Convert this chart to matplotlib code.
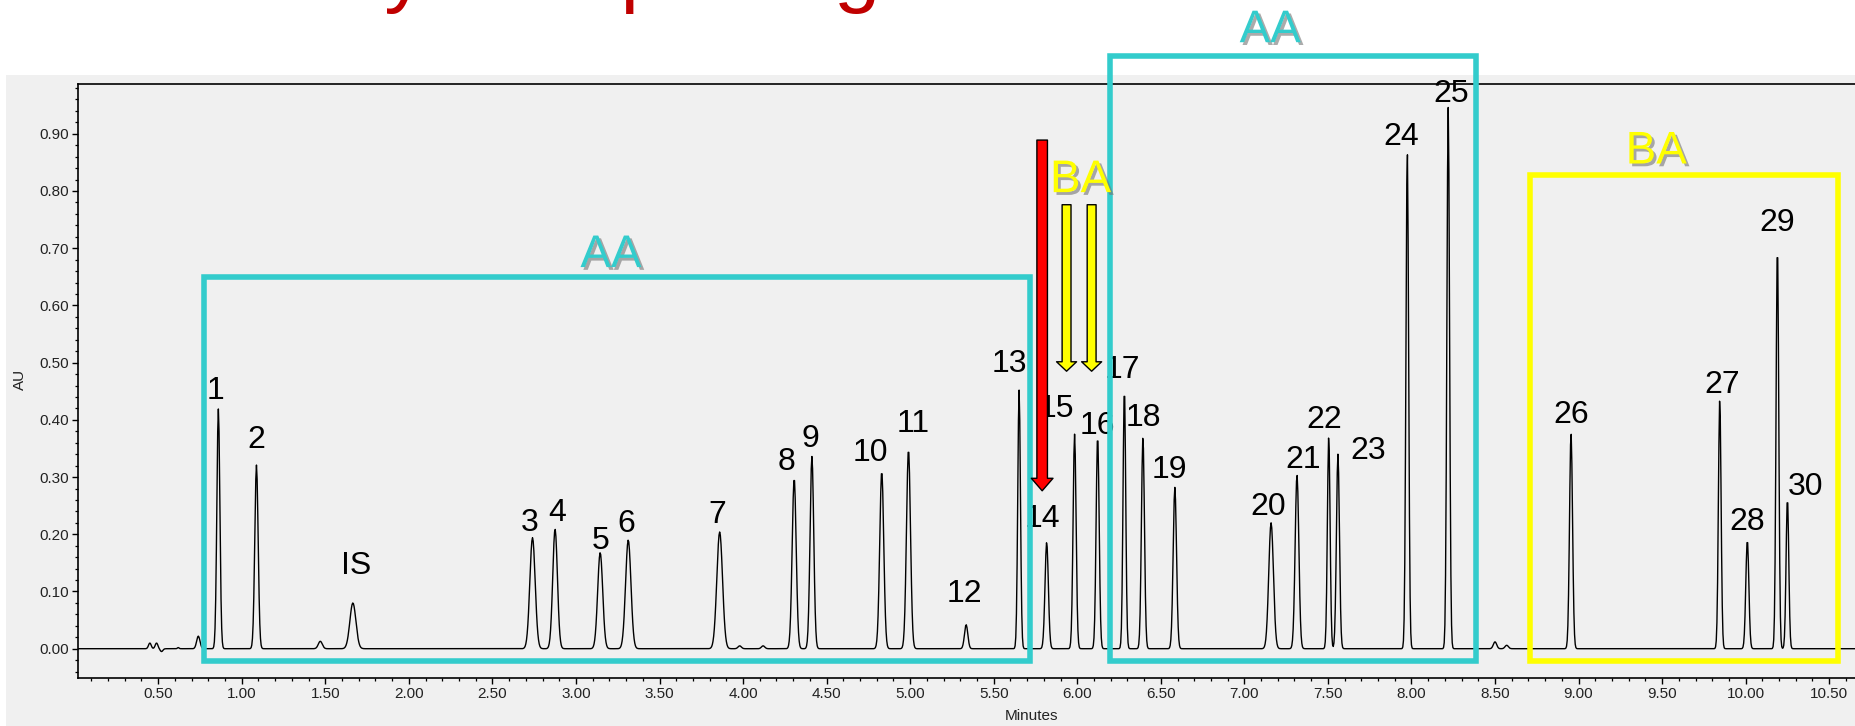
import numpy as np
import matplotlib
matplotlib.use("Agg")
import matplotlib.pyplot as plt
from matplotlib.patches import Rectangle
from matplotlib.ticker import MultipleLocator, FormatStrFormatter
import matplotlib.patheffects as pe

# ---- chromatogram data -------------------------------------------------
peak_labels = ["1", "2", "IS", "3", "4", "5", "6", "7", "8", "9", "10",
               "11", "12", "13", "14", "15", "16", "17", "18", "19", "20",
               "21", "22", "23", "24", "25", "26", "27", "28", "29", "30"]
peak_times = [0.860, 1.088, 1.665, 2.740, 2.875, 3.145, 3.313, 3.860, 4.306,
              4.412, 4.830, 4.990, 5.335, 5.652, 5.817, 5.984, 6.122, 6.282,
              6.393, 6.584, 7.160, 7.315, 7.505, 7.560, 7.975, 8.220, 8.955,
              9.845, 10.010, 10.190, 10.250]
peak_heights = [0.419, 0.321, 0.080, 0.194, 0.209, 0.168, 0.190, 0.204, 0.298,
                0.336, 0.310, 0.348, 0.042, 0.452, 0.186, 0.375, 0.372, 0.455,
                0.370, 0.282, 0.220, 0.304, 0.371, 0.340, 0.870, 0.946, 0.377,
                0.436, 0.190, 0.705, 0.263]
peak_sigmas = [0.009, 0.010, 0.018, 0.016, 0.014, 0.015, 0.016, 0.017, 0.012,
               0.011, 0.012, 0.012, 0.010, 0.008, 0.010, 0.009, 0.009, 0.008,
               0.009, 0.010, 0.014, 0.011, 0.008, 0.009, 0.008, 0.008, 0.009,
               0.008, 0.009, 0.008, 0.008]

# small unlabelled baseline features
minor_times = [0.45, 0.49, 0.52, 0.62, 0.74, 1.47, 3.98, 4.12, 8.50, 8.57]
minor_heights = [0.010, 0.010, -0.005, 0.002, 0.022, 0.013, 0.005, 0.005, 0.012, 0.006]
minor_sigmas = [0.008, 0.008, 0.008, 0.005, 0.010, 0.012, 0.010, 0.010, 0.010, 0.010]

# label placement relative to each apex (minutes, AU)
label_dx = [-0.02, 0.0, 0.02, -0.02, 0.01, 0.0, -0.01, -0.017, -0.046, -0.01, -0.07,
            0.03, -0.01, -0.06, -0.028, -0.11, 0.0, -0.014, 0.0, -0.03, -0.017,
            0.04, -0.025, 0.18, -0.034, 0.016, 0.0, 0.014, 0.0, 0.0, 0.11]
label_dy = [0.018, 0.03, 0.05, 0.012, 0.014, 0.007, 0.014, 0.016, 0.015, 0.017, 0.018,
            0.03, 0.04, 0.032, 0.027, 0.03, 0.004, 0.019, 0.02, 0.016, 0.013,
            0.011, 0.015, -0.008, 0.01, 0.01, 0.017, 0.011, 0.018, 0.025, 0.005]

# ---- signal ------------------------------------------------------------
t = np.arange(0.02, 10.95, 0.004)
signal = np.zeros_like(t)
for tc, h, s in zip(peak_times + minor_times, peak_heights + minor_heights,
                    peak_sigmas + minor_sigmas):
    signal += h * np.exp(-0.5 * ((t - tc) / s) ** 2)

# ---- figure ------------------------------------------------------------
W, H = 1856, 726
fig = plt.figure(figsize=(W / 100, H / 100), dpi=100)
panel = Rectangle((6 / W, 0), 1, (H - 75) / H, transform=fig.transFigure,
                  facecolor="#f0f0f0", edgecolor="none", zorder=-5)
fig.patches.append(panel)

x0, x1 = 0.02, 11.0
px_per_min = 167.1
ax = fig.add_axes([78 / W, 48 / H, (x1 - x0) * px_per_min / W, 594 / H])
ax.set_zorder(2)
ax.set_facecolor("#f0f0f0")
ax.set_xlim(x0, x1)
ax.set_ylim(-0.0512, 0.987)

ax.plot(t, signal, color="black", lw=1.0, zorder=3)

for s in ("top", "left", "bottom"):
    ax.spines[s].set_color("black")
    ax.spines[s].set_linewidth(1.2)
ax.spines["right"].set_visible(False)

ax.set_xticks(np.arange(0.5, 10.51, 0.5))
ax.set_yticks(np.round(np.arange(0.0, 0.91, 0.1), 2))
ax.xaxis.set_minor_locator(MultipleLocator(0.1))
ax.yaxis.set_minor_locator(MultipleLocator(0.02))
ax.xaxis.set_major_formatter(FormatStrFormatter("%.2f"))
ax.yaxis.set_major_formatter(FormatStrFormatter("%.2f"))
ax.tick_params(which="major", length=4.5, width=1.0, direction="out", pad=2,
               labelsize=11, labelcolor="#222222")
ax.tick_params(which="minor", length=2.5, width=0.9, direction="out")
for lab in ax.get_xticklabels() + ax.get_yticklabels():
    lab.set_family("Liberation Sans")

fig.text(20 / W, 1 - 379 / H, "AU", rotation=90, ha="center", va="center",
         fontsize=11, color="#222222", family="Liberation Sans")
fig.text(1032 / W, 1 - 716 / H, "Minutes", ha="center", va="center",
         fontsize=11, color="#222222", family="Liberation Sans")

# peak numbers
for lab, tc, h, dx, dy in zip(peak_labels, peak_times, peak_heights, label_dx, label_dy):
    ax.text(tc + dx, h + dy, lab, ha="center", va="baseline", fontsize=23,
            family="Liberation Sans", color="black", zorder=4)

# ---- group boxes -------------------------------------------------------
cyan = "#33cccc"
yellow = "#ffff00"
shadow = [pe.SimplePatchShadow(offset=(2, -2), shadow_rgbFace="0.45", alpha=0.6),
          pe.Normal()]

boxes = [((0.776, -0.022), 5.717 - 0.776, 0.65 + 0.022, cyan),
         ((6.198, -0.022), 8.385 - 6.198, 1.036 + 0.022, cyan),
         ((8.71, -0.022), 10.55 - 8.71, 0.828 + 0.022, yellow)]
for (bx, by), bw, bh, col in boxes:
    ax.add_patch(Rectangle((bx, by), bw, bh, fill=False, edgecolor=col, lw=4,
                           clip_on=False, zorder=5))

group_text = [(3.21, 0.688, "AA", cyan), (7.155, 1.081, "AA", cyan),
              (9.465, 0.869, "BA", yellow), (6.02, 0.819, "BA", yellow)]
for gx, gy, txt, col in group_text:
    ax.text(gx, gy, txt, ha="center", va="center", fontsize=33, color=col,
            family="Liberation Sans", path_effects=shadow, clip_on=False, zorder=6)

# arrows
ax.annotate("", xy=(5.79, 0.276), xytext=(5.79, 0.889),
            arrowprops=dict(arrowstyle="simple,tail_width=0.38,head_width=0.78,head_length=0.45",
                            mutation_scale=20, fc="#ff0000", ec="black", lw=1.0,
                            shrinkA=0, shrinkB=0),
            zorder=7, annotation_clip=False)
for xa in (5.936, 6.086):
    ax.annotate("", xy=(xa, 0.485), xytext=(xa, 0.776),
                arrowprops=dict(arrowstyle="simple,tail_width=0.32,head_width=0.72,head_length=0.34",
                                mutation_scale=20, fc=yellow, ec="black", lw=1.0,
                                shrinkA=0, shrinkB=0),
                zorder=7, annotation_clip=False)

# page heading (sits above the visible area; only descenders show)
fig.text(-144 / W, 1 + 3 / H, "Amino Acids by Sample Digestion", ha="left",
         va="baseline", fontsize=60, color="#c00000", family="Liberation Sans")

fig.savefig("out.png", dpi=100)
